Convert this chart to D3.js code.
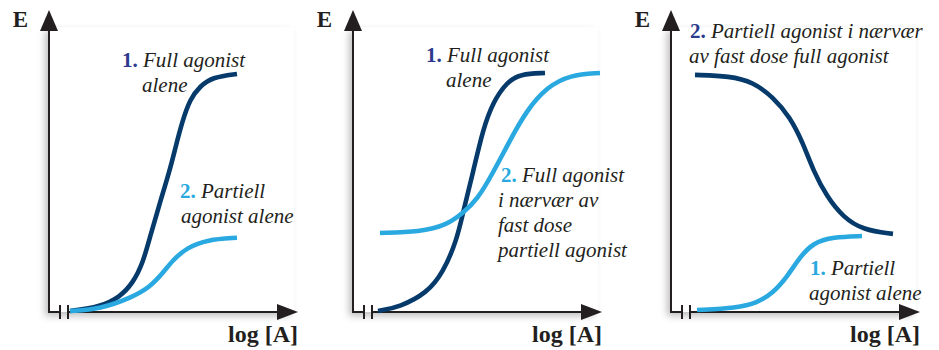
<!DOCTYPE html>
<html>
<head>
<meta charset="utf-8">
<script src="https://cdn.jsdelivr.net/npm/d3@7"></script>
<style>
  html, body { margin: 0; padding: 0; background: #fff; }
  svg { display: block; }
  svg text { font-family: "Liberation Serif", "Times New Roman", "DejaVu Serif", serif; }
</style>
</head>
<body>
<svg id="chart" width="939" height="350"></svg>
<script>
// Dose–response curves: x = log [A] (arbitrary units), y = effect E (% of full response)

// Panel 1 – each agonist on its own
const p1FullAlone = [[0.84,0],[2.04,1.7],[2.84,5.9],[3.36,11.8],[3.76,20.3],[4.04,31.2],[4.44,45.6],
  [4.84,59.5],[5.04,67.9],[5.32,79.3],[5.64,89.0],[6.04,94.5],[6.56,98.3],[7.52,99.6]];
const p1PartialAlone = [[0.84,0],[2.04,0.8],[3.36,5.9],[4.04,10.1],[4.56,16.0],[4.96,21.5],
  [5.52,26.6],[6.32,30.0],[7.52,30.8]];

// Panel 2 – full agonist alone vs. with a fixed dose of partial agonist
const p2FullAlone = [[1.0,0],[1.88,1.7],[2.96,7.6],[3.6,16.0],[4.16,30.0],[4.4,41.4],[4.8,58.2],
  [5.2,76.4],[5.6,87.8],[6.16,96.2],[6.68,99.6],[7.68,100]];
const p2FullWithPartial = [[1.08,32.8],[2.68,33.2],[3.76,36.1],[4.4,41.2],[4.96,46.6],[5.6,58.0],
  [6.28,71.8],[6.96,84.5],[7.76,94.1],[8.68,99.2],[9.88,100]];

// Panel 3 – partial agonist alone vs. with a fixed dose of full agonist
const p3PartialAlone = [[1.04,0.4],[2.64,1.3],[3.44,3.4],[4.08,7.6],[4.64,14.3],[5.16,22.7],
  [5.68,28.6],[6.48,31.1],[7.64,31.5]];
const p3PartialWithFull = [[0.96,99.2],[2.36,98.7],[3.28,96.2],[4.08,89.9],[4.76,81.5],[5.28,70.6],
  [5.68,59.2],[6.24,47.9],[6.88,39.5],[7.68,34.0],[8.88,32.4]];

// Curve labels: bold number + italic lines
const p1Labels = [
  { num: "1.", tone: "dark",  lines: ["Full agonist", "alene"] },
  { num: "2.", tone: "light", lines: ["Partiell", "agonist alene"] }
];
const p2Labels = [
  { num: "1.", tone: "dark",  lines: ["Full agonist", "alene"] },
  { num: "2.", tone: "light", lines: ["Full agonist", "i nærvær av", "fast dose", "partiell agonist"] }
];
const p3Labels = [
  { num: "2.", tone: "dark",  lines: ["Partiell agonist i nærvær", "av fast dose full agonist"] },
  { num: "1.", tone: "light", lines: ["Partiell", "agonist alene"] }
];

const axisTitleY = "E";
const axisTitleX = "log [A]";

const COL = {
  dark: "#053a6b", light: "#2aa9e0",
  numDark: "#2d3a8e", numLight: "#2aa9e0",
  ink: "#231f20"
};

const svg = d3.select("#chart");

const defs = svg.append("defs");
const f = defs.append("filter").attr("id", "panelShadow")
  .attr("x", "-10%").attr("y", "-10%").attr("width", "125%").attr("height", "125%");
f.append("feDropShadow").attr("dx", -4).attr("dy", 4).attr("stdDeviation", 3.5)
  .attr("flood-color", "#000").attr("flood-opacity", 0.25);

const panels = [
  { ox: 49,  curves: [[p1FullAlone, "dark"], [p1PartialAlone, "light"]], labels: p1Labels,
    labelPos: [[122, 67], [180, 198]], indent: [20, 1] },
  { ox: 353, curves: [[p2FullAlone, "dark"], [p2FullWithPartial, "light"]], labels: p2Labels,
    labelPos: [[426, 62], [501, 182]], indent: [20, -3] },
  { ox: 671, curves: [[p3PartialWithFull, "dark"], [p3PartialAlone, "light"]], labels: p3Labels,
    labelPos: [[690, 38], [810, 275]], indent: [-1, -1] }
];

const baseY = 312, topY = 10, axisLen = 249;

panels.forEach(p => {
  const ox = p.ox;
  const x = d3.scaleLinear().domain([0, 10]).range([ox, ox + 250]);
  const y = d3.scaleLinear().domain([0, 100]).range([311, 73]);
  const g = svg.append("g");

  // plot-area card with soft shadow
  g.append("rect").attr("x", ox).attr("y", 27).attr("width", 245).attr("height", baseY - 27)
    .attr("fill", "#fff").attr("filter", "url(#panelShadow)");

  // axes
  const tipX = ox + axisLen;
  g.append("path")
    .attr("d", `M${ox},${topY + 18} L${ox},${baseY} L${ox + 11},${baseY}`)
    .attr("fill", "none").attr("stroke", COL.ink).attr("stroke-width", 2);
  g.append("line").attr("x1", ox + 19).attr("x2", tipX - 16).attr("y1", baseY).attr("y2", baseY)
    .attr("stroke", COL.ink).attr("stroke-width", 2);
  // axis break marks
  [ox + 11, ox + 19].forEach(bx => {
    g.append("line").attr("x1", bx).attr("x2", bx).attr("y1", baseY - 7).attr("y2", baseY + 7)
      .attr("stroke", COL.ink).attr("stroke-width", 2);
  });
  // arrowheads
  g.append("path").attr("d", `M${ox},${topY} L${ox + 9},${topY + 21} L${ox - 9},${topY + 21} Z`)
    .attr("fill", COL.ink);
  g.append("path").attr("d", `M${tipX},${baseY} L${tipX - 21},${baseY - 8} L${tipX - 21},${baseY + 8} Z`)
    .attr("fill", COL.ink);

  // axis titles
  g.append("text").attr("x", ox - 21).attr("y", 27).attr("text-anchor", "end")
    .attr("font-weight", "bold").attr("font-size", 23).attr("fill", COL.ink).text(axisTitleY);
  g.append("text").attr("x", tipX).attr("y", 342).attr("text-anchor", "end")
    .attr("font-weight", "bold").attr("font-size", 24).attr("fill", COL.ink).text(axisTitleX);

  // curves
  const line = d3.line().x(d => x(d[0])).y(d => y(d[1])).curve(d3.curveBasis);
  p.curves.forEach(([data, tone]) => {
    g.append("path").attr("d", line(data)).attr("fill", "none")
      .attr("stroke", COL[tone]).attr("stroke-width", 4.6);
  });

  // labels
  p.labels.forEach((lab, i) => {
    const [lx, ly] = p.labelPos[i];
    const t = g.append("text").attr("x", lx).attr("y", ly)
      .attr("font-size", 21).attr("fill", COL.ink);
    t.append("tspan").attr("font-weight", "bold")
      .attr("fill", lab.tone === "dark" ? COL.numDark : COL.numLight).text(lab.num + " ");
    t.append("tspan").attr("font-style", "italic").text(lab.lines[0]);
    lab.lines.slice(1).forEach((ln, k) => {
      g.append("text").attr("x", lx + p.indent[i]).attr("y", ly + 25 * (k + 1))
        .attr("font-size", 21).attr("font-style", "italic").attr("fill", COL.ink).text(ln);
    });
  });
});
</script>
</body>
</html>
